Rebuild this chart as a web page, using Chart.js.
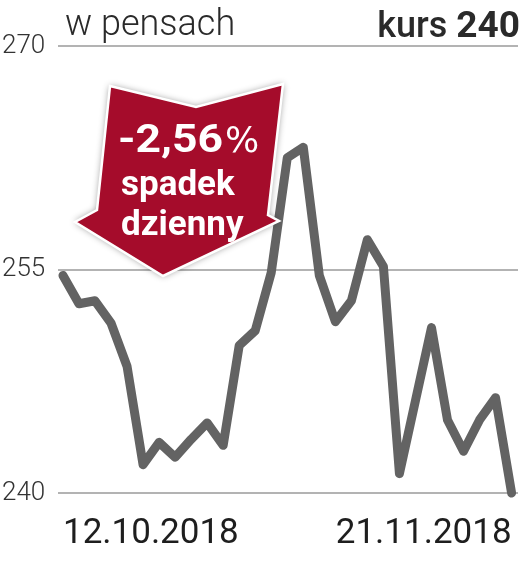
<!DOCTYPE html>
<html>
<head>
<meta charset="utf-8">
<script src="https://cdn.jsdelivr.net/npm/chart.js@4/dist/chart.umd.min.js"></script>
<style>
html,body{margin:0;padding:0;background:#fff;}
#wrap{width:526px;height:568px;position:relative;}
</style>
</head>
<body>
<div id="wrap"><canvas id="c" width="526" height="568"></canvas></div>
<script>
// ---- data ----
const dates = ["12.10","15.10","16.10","17.10","18.10","19.10","22.10","23.10","24.10","25.10","26.10","29.10","30.10","31.10","01.11","02.11","05.11","06.11","07.11","08.11","09.11","12.11","13.11","14.11","15.11","16.11","19.11","20.11","21.11"];
const prices = [254.6,252.7,252.9,251.4,248.5,241.9,243.4,242.4,243.6,244.7,243.2,249.9,250.9,254.8,262.5,263.2,254.6,251.5,252.9,257.0,255.2,241.3,246.2,251.1,244.9,242.8,244.9,246.4,240.0];
const yTicks = [240,255,270];
const xTickIdx = [0, dates.length - 1];
const year = "2018";
const titleLeft = "w pensach";
const titleRightA = "kurs ";
const titleRightB = "240";
const calloutLines = ["-2,56", "%", "spadek", "dzienny"];

const overlay = {
  id: 'overlay',
  afterDraw(chart) {
    const ctx = chart.ctx;
    ctx.save();
    // titles
    ctx.fillStyle = '#2a2a2a';
    ctx.textBaseline = 'alphabetic';
    ctx.font = '300 36px Roboto';
    ctx.textAlign = 'left';
    ctx.fillText(titleLeft, 65, 35);
    ctx.font = 'bold 37px Roboto';
    const wB = ctx.measureText(titleRightB).width;
    ctx.textAlign = 'right';
    ctx.fillText(titleRightB, 520, 37);
    ctx.font = '500 36px Roboto';
    ctx.fillText(titleRightA, 520 - wB, 37);

    // callout arrow
    const pts = [[110,86],[196,107],[283,84],[268,215],[279,221],[163,276],[75,222],[97,210]];
    ctx.beginPath();
    pts.forEach((p,i)=> i ? ctx.lineTo(p[0],p[1]) : ctx.moveTo(p[0],p[1]));
    ctx.closePath();
    ctx.shadowColor = 'rgba(0,0,0,0.45)';
    ctx.shadowBlur = 7;
    ctx.fillStyle = '#a50c2b';
    ctx.fill();
    ctx.shadowColor = 'transparent';
    ctx.shadowBlur = 0;
    ctx.lineWidth = 2.5;
    ctx.strokeStyle = '#ffffff';
    ctx.lineJoin = 'miter';
    ctx.stroke();

    ctx.fillStyle = '#ffffff';
    ctx.textAlign = 'left';
    ctx.font = 'bold 39px Roboto';
    const w0 = ctx.measureText(calloutLines[0]).width;
    ctx.save();
    ctx.translate(118, 152);
    ctx.scale(105 / w0, 1);
    ctx.fillText(calloutLines[0], 0, 0);
    ctx.restore();
    ctx.font = '36px "DejaVu Sans"';
    ctx.fillText(calloutLines[1], 225, 152);
    ctx.font = 'bold 35px Roboto';
    ctx.fillText(calloutLines[2], 121, 195);
    ctx.fillText(calloutLines[3], 121, 235);
    ctx.restore();
  }
};

new Chart(document.getElementById('c'), {
  type: 'line',
  data: {
    datasets: [{
      data: prices.map((v,i)=>({x:i, y:v})),
      borderColor: '#636363',
      borderWidth: 9,
      pointRadius: 0,
      tension: 0,
      borderJoinStyle: 'round',
      borderCapStyle: 'round',
      clip: false,
      fill: false
    }]
  },
  options: {
    responsive: false,
    devicePixelRatio: 1,
    animation: false,
    events: [],
    layout: { padding: { top: 46, left: 2, right: 8, bottom: 0 } },
    plugins: { legend: { display: false }, tooltip: { enabled: false }, title: { display: false } },
    scales: {
      x: {
        type: 'linear',
        min: -0.31,
        max: 28.4,
        afterBuildTicks: (axis) => { axis.ticks = xTickIdx.map(v => ({value: v})); },
        afterFit: (axis) => { axis.height = 75; axis.paddingLeft = 0; axis.paddingRight = 0; },
        grid: { display: false, drawTicks: false },
        border: { display: false },
        ticks: {
          autoSkip: false,
          maxRotation: 0,
          align: 'inner',
          padding: 0,
          color: '#1e1e1e',
          font: { family: 'Roboto', size: 35, weight: 'normal', lineHeight: '82px' },
          callback: (v) => dates[v] + '.' + year
        }
      },
      y: {
        min: 240,
        max: 270,
        afterBuildTicks: (axis) => { axis.ticks = yTicks.map(v => ({value: v})); },
        afterFit: (axis) => { axis.width = 56; },
        grid: { color: '#b3b3b3', lineWidth: 2, drawTicks: false },
        border: { display: false },
        ticks: {
          crossAlign: 'far',
          padding: 0,
          color: '#333333',
          font: { family: 'Roboto', size: 26, weight: '300' }
        }
      }
    }
  },
  plugins: [overlay]
});
</script>
</body>
</html>
